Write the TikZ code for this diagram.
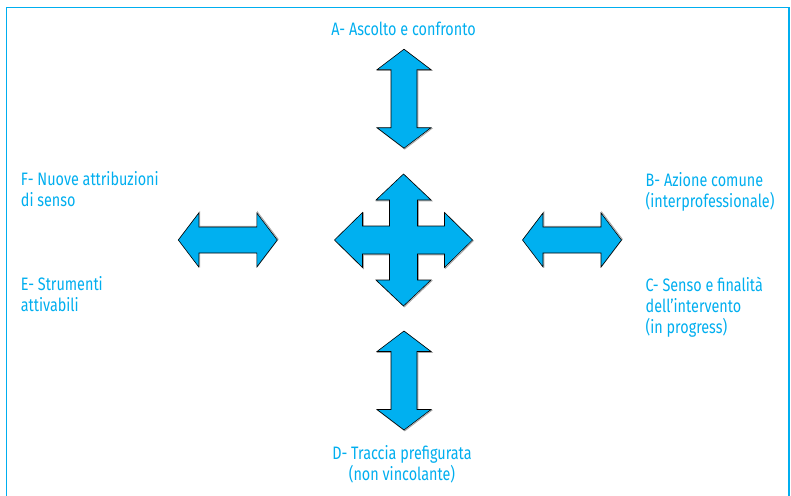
\documentclass[tikz,border=0pt]{standalone}
\usepackage{fontspec}
\setmainfont{Fira Sans}[FakeStretch=0.80]
\definecolor{cyanline}{RGB}{0,174,239}
\definecolor{arrowfill}{RGB}{0,176,240}
\begin{document}
\begin{tikzpicture}[x=1pt,y=-1pt,
  label/.style={inner sep=0pt, text=cyanline, font=\fontsize{18}{21}\selectfont},
  % multi-line labels are anchored on the baseline of their last line
  leftlabel/.style={label, align=left, anchor=base west},
  centerlabel/.style={label, align=center, anchor=base},
  arrowshape/.style={fill=arrowfill, draw=black, line width=0.6pt, line join=miter},
  arrowshadow/.style={draw=black!35, line width=0.9pt},
  pics/dblarrow/.style={code={
    % straight two-headed arrow, tips at -49.5 and +49.5 along y
    \draw[arrowshadow, shift={(0.8,0.8)}]
      (0,-49.5) -- (27,-29) -- (13,-29) -- (13,29) -- (27,29) -- (0,49.5)
      -- (-27,29) -- (-13,29) -- (-13,-29) -- (-27,-29) -- cycle;
    \draw[arrowshape]
      (0,-49.5) -- (27,-29) -- (13,-29) -- (13,29) -- (27,29) -- (0,49.5)
      -- (-27,29) -- (-13,29) -- (-13,-29) -- (-27,-29) -- cycle;
  }}]
\useasboundingbox (0,0) rectangle (791,495);

% open frame
\draw[cyanline, line width=1.6pt] (6.3,496) -- (6.3,7.6) -- (789.2,7.6) -- (789.2,496);

% four-way arrow in the middle
\begin{scope}[shift={(403.5,240)}]
  \draw[arrowshadow, shift={(0.8,0.8)}]
    (0,-66) -- (27.5,-40) -- (14,-40) -- (14,-14) -- (41,-14) -- (41,-27.5)
    -- (69,0) -- (41,27.5) -- (41,14) -- (14,14) -- (14,40) -- (27.5,40)
    -- (0,66) -- (-27.5,40) -- (-14,40) -- (-14,14) -- (-41,14) -- (-41,27.5)
    -- (-69,0) -- (-41,-27.5) -- (-41,-14) -- (-14,-14) -- (-14,-40) -- (-27.5,-40) -- cycle;
  \draw[arrowshape]
    (0,-66) -- (27.5,-40) -- (14,-40) -- (14,-14) -- (41,-14) -- (41,-27.5)
    -- (69,0) -- (41,27.5) -- (41,14) -- (14,14) -- (14,40) -- (27.5,40)
    -- (0,66) -- (-27.5,40) -- (-14,40) -- (-14,14) -- (-41,14) -- (-41,27.5)
    -- (-69,0) -- (-41,-27.5) -- (-41,-14) -- (-14,-14) -- (-14,-40) -- (-27.5,-40) -- cycle;
\end{scope}

% two-headed arrows around it
\pic at (404,98.7) {dblarrow};
\pic at (404,380.5) {dblarrow};
\pic[rotate=90] at (227.8,240) {dblarrow};
\pic[rotate=90] at (572,240) {dblarrow};

% labels
\node[centerlabel] (A) at (403.5,36) {A- Ascolto e confronto};
\node[leftlabel] (B) at (645.5,207) {B- Azione comune\\(interprofessionale)};
\node[leftlabel] (C) at (645.5,333.7) {C- Senso e finalità\\dell’intervento\\(in progress)};
\node[centerlabel] (D) at (402,480) {D- Traccia prefigurata\\(non vincolante)};
\node[leftlabel] (E) at (20.7,311.5) {E- Strumenti\\attivabili};
\node[leftlabel] (F) at (20.7,206.3) {F- Nuove attribuzioni\\di senso};
\end{tikzpicture}
\end{document}
